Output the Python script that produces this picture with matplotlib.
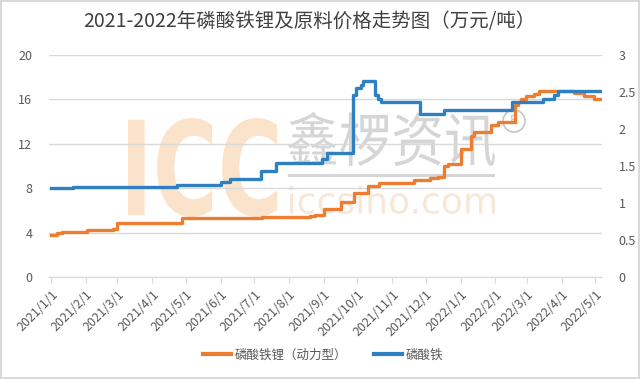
import matplotlib
matplotlib.use('Agg')
import matplotlib.pyplot as plt
from matplotlib.textpath import TextPath
from matplotlib.font_manager import FontProperties
from matplotlib.patches import PathPatch, Circle
from matplotlib.path import Path
from matplotlib.transforms import Affine2D, IdentityTransform
import pandas as pd

plt.rcParams['font.family'] = ['Noto Sans CJK SC', 'DejaVu Sans']

# ---- data (step changes) ----
lfp_dates = ['2021-01-01', '2021-01-06', '2021-01-11', '2021-02-02', '2021-02-25',
             '2021-03-01', '2021-04-01', '2021-04-28', '2021-07-08', '2021-08-20',
             '2021-08-24', '2021-09-01', '2021-09-16', '2021-09-28', '2021-10-10',
             '2021-10-20', '2021-11-20', '2021-12-05', '2021-12-12', '2021-12-17',
             '2021-12-21', '2022-01-01', '2022-01-10', '2022-01-13', '2022-01-28',
             '2022-02-03', '2022-02-18', '2022-02-21', '2022-02-24', '2022-02-28',
             '2022-03-07', '2022-03-12', '2022-04-12', '2022-04-21', '2022-04-30',
             '2022-05-07']
lfp_price = [3.8, 3.95, 4.07, 4.2, 4.35,
             4.85, 4.9, 5.3, 5.4, 5.5,
             5.6, 6.1, 6.8, 7.55, 8.16,
             8.5, 8.7, 8.9, 9.05, 9.96,
             10.15, 11.5, 12.7, 13.1, 13.7,
             14.0, 15.5, 15.8, 16.0, 16.35,
             16.5, 16.8, 16.6, 16.35, 16.05,
             16.05]

fp_dates = ['2021-01-01', '2021-01-20', '2021-03-21', '2021-04-23', '2021-06-01',
            '2021-06-09', '2021-07-07', '2021-07-20', '2021-08-30', '2021-09-04',
            '2021-09-27', '2021-09-30', '2021-10-04', '2021-10-06', '2021-10-17',
            '2021-10-19', '2021-10-22', '2021-11-26', '2021-12-17', '2022-02-16',
            '2022-03-15', '2022-03-25', '2022-03-29', '2022-05-07']
fp_price = [1.20, 1.21, 1.22, 1.25, 1.29,
            1.32, 1.43, 1.54, 1.59, 1.67,
            2.46, 2.55, 2.60, 2.65, 2.46,
            2.40, 2.37, 2.20, 2.26, 2.37,
            2.40, 2.46, 2.52, 2.52]

left_ticks = [0, 4, 8, 12, 16, 20]
right_ticks = [0, 0.5, 1, 1.5, 2, 2.5, 3]
month_ticks = pd.date_range('2021-01-01', '2022-05-01', freq='MS')

title = '2021-2022年磷酸铁锂及原料价格走势图（万元/吨）'
lfp_label = '磷酸铁锂（动力型）'
fp_label = '磷酸铁'

ORANGE = '#ED7D31'
BLUE = '#2E80C2'
GREY = '#595959'
GRID = '#D9D9D9'

fig = plt.figure(figsize=(6.4, 3.79), dpi=100)
fig.patch.set_facecolor('white')
fig.patch.set_edgecolor(GRID)
fig.patch.set_linewidth(1.5)

ax = fig.add_axes([49 / 640, 1 - 277 / 379, 553 / 640, 222 / 379])
ax2 = ax.twinx()
for a in (ax, ax2):
    a.patch.set_visible(False)
    for s in a.spines.values():
        s.set_visible(False)
ax.spines['bottom'].set_visible(True)
ax.spines['bottom'].set_color(GRID)


# ---- watermark (drawn in pixel space, under the lines) ----
def stamp(text, x0, y0, x1, y1, color, alpha, family, weight='normal'):
    tp = TextPath((0, 0), text, size=100, prop=FontProperties(family=family, weight=weight))
    bb = tp.get_extents()
    tr = (Affine2D().translate(-bb.x0, -bb.y0)
          .scale((x1 - x0) / bb.width, (y1 - y0) / bb.height)
          .translate(x0, 379 - y1))
    p = PathPatch(tr.transform_path(tp), fc=color, ec='none', alpha=alpha,
                  transform=IdentityTransform(), zorder=-5)
    fig.add_artist(p)


stamp('ICC', 128, 118, 277, 217, '#FBDDBE', 0.8, 'DejaVu Sans', 'bold')
stamp('鑫椤资讯', 288, 112, 495, 166, '#C8C8C8', 0.75, 'Noto Sans CJK SC')
stamp('iccsino.com', 290, 186, 495, 214, '#F7E2CC', 0.8, 'DejaVu Sans')
fig.add_artist(PathPatch(
    Affine2D().scale(207, 3).translate(288, 379 - 177).transform_path(Path.unit_rectangle()),
    fc='#C8C8C8', ec='none', alpha=0.75, transform=IdentityTransform(), zorder=-5))
fig.add_artist(Circle((514, 379 - 121), 11, fc='none', ec='#B8B8B8', lw=1.2, alpha=0.8,
                      transform=IdentityTransform(), zorder=-5))
fig.text(514 / 640, 1 - 121 / 379, 'R', ha='center', va='center', fontsize=9,
         color='#B8B8B8', alpha=0.8, family='DejaVu Sans', zorder=-5)

# ---- series ----
ax.plot(pd.to_datetime(lfp_dates), lfp_price, drawstyle='steps-post',
        color=ORANGE, lw=2.4, label=lfp_label, zorder=3)
ax2.plot(pd.to_datetime(fp_dates), fp_price, drawstyle='steps-post',
         color=BLUE, lw=2.4, label=fp_label, zorder=2)

ax.set_ylim(0, 20)
ax.set_yticks(left_ticks)
ax2.set_ylim(0, 3)
ax2.set_yticks(right_ticks)
ax2.set_yticklabels([f'{t:g}' for t in right_ticks])
ax.grid(axis='y', color=GRID, lw=1)
ax.set_axisbelow(True)

ax.set_xlim(pd.Timestamp('2020-12-30'), pd.Timestamp('2022-05-07'))
ax.set_xticks(month_ticks)
ax.set_xticklabels([f'{d.year}/{d.month}/{d.day}' for d in month_ticks],
                   rotation=45, ha='right', rotation_mode='anchor')

ax.tick_params(axis='y', length=0, labelsize=9, labelcolor=GREY, pad=12)
ax2.tick_params(axis='y', length=0, labelsize=9, labelcolor=GREY, pad=12)
ax.tick_params(axis='x', length=4, color=GRID, labelsize=9, labelcolor=GREY, pad=4)

fig.text(0.484, 1 - 22 / 379, title, ha='center', va='center',
         fontsize=14, color='#404040')

h1, l1 = ax.get_legend_handles_labels()
h2, l2 = ax2.get_legend_handles_labels()
leg = fig.legend(h1 + h2, l1 + l2, loc='center', bbox_to_anchor=(0.505, 1 - 355 / 379),
                 ncol=2, frameon=False, fontsize=9, labelcolor=GREY,
                 handlelength=2.2, columnspacing=2.2, handletextpad=0.3)
for ln in leg.get_lines():
    ln.set_linewidth(3)

fig.savefig('out.png', dpi=100)
